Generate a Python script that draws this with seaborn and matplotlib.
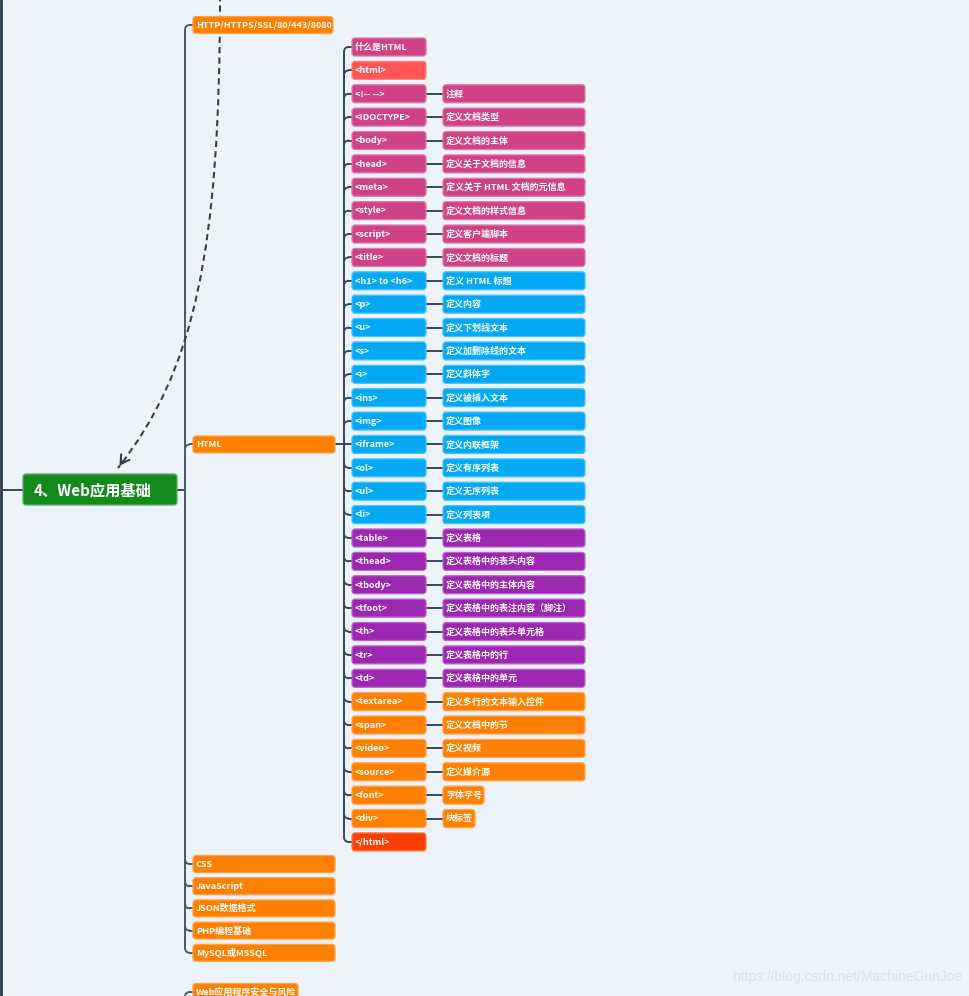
# Mapa mental "4、Web应用基础" rehecho con seaborn + matplotlib
# todo se dibuja en un solo eje que ocupa la figura entera (1 unidad = 1 px)

import matplotlib
matplotlib.use("Agg")
import matplotlib.pyplot as plt
import seaborn as sns
from matplotlib.patches import FancyBboxPatch, PathPatch
from matplotlib.path import Path
from matplotlib.colors import to_rgb

# Seccion 1: datos del mapa

CENTRO = "4、Web应用基础"

# ramas de segundo nivel
RAMA_HTTP = "HTTP/HTTPS/SSL/80/443/8080"
RAMA_HTML = "HTML"
RAMAS_ABAJO = ["CSS", "JavaScript", "JSON数据格式", "PHP编程基础", "MySQL或MSSQL"]
RAMA_CORTADA = "Web应用程序安全与风险"

# hijos de HTML: etiqueta, descripcion y grupo de color
ETIQUETAS = [
    "什么是HTML", "<html>", "<!-- -->", "<!DOCTYPE>", "<body>", "<head>",
    "<meta>", "<style>", "<script>", "<title>",
    "<h1> to <h6>", "<p>", "<u>", "<s>", "<i>", "<ins>", "<img>", "<iframe>",
    "<ol>", "<ul>", "<li>",
    "<table>", "<thead>", "<tbody>", "<tfoot>", "<th>", "<tr>", "<td>",
    "<textarea>", "<span>", "<video>", "<source>", "<font>", "<div>", "</html>",
]
DESCRIPCIONES = [
    "", "", "注释", "定义文档类型", "定义文档的主体", "定义关于文档的信息",
    "定义关于 HTML 文档的元信息", "定义文档的样式信息", "定义客户端脚本", "定义文档的标题",
    "定义 HTML 标题", "定义内容", "定义下划线文本", "定义加删除线的文本", "定义斜体字",
    "定义被插入文本", "定义图像", "定义内联框架", "定义有序列表", "定义无序列表", "定义列表项",
    "定义表格", "定义表格中的表头内容", "定义表格中的主体内容", "定义表格中的表注内容（脚注）",
    "定义表格中的表头单元格", "定义表格中的行", "定义表格中的单元",
    "定义多行的文本输入控件", "定义文档中的节", "定义视频", "定义媒介源", "字体字号", "块标签", "",
]
GRUPOS = (["rosa", "rojo"] + ["rosa"] * 8 + ["azul"] * 11 + ["morado"] * 7
          + ["naranja"] * 6 + ["rojo2"])

WATERMARK = "https://blog.csdn.net/MachineGunJoe"

# Seccion 2: estilo

FONDO = "#ecf3fa"
LINEA = "#3a4658"
COLORES = {
    "rosa": "#cf4386",
    "rojo": "#ff5555",
    "azul": "#03a9f4",
    "morado": "#9c27b0",
    "naranja": "#ff8000",
    "rojo2": "#ff3d00",
    "verde": "#148a1e",
}

sns.set_theme(style="white", rc={"axes.facecolor": FONDO, "figure.facecolor": FONDO})
plt.rcParams["font.family"] = ["Noto Sans CJK SC", "DejaVu Sans"]

fig = plt.figure(figsize=(9.7, 9.96), dpi=100)
ax = fig.add_axes([0, 0, 1, 1])
ax.set_xlim(0, 970)
ax.set_ylim(996, 0)
ax.axis("off")


def aclarar(color, f=0.3):
    r, g, b = to_rgb(color)
    return (r + (1 - r) * f, g + (1 - g) * f, b + (1 - b) * f)


def caja(x, y, w, h, color, texto, fs=6.5, dx=3):
    ax.add_patch(FancyBboxPatch((x, y - h / 2), w, h,
                                boxstyle="round,pad=0,rounding_size=3",
                                fc=color, ec=aclarar(color), lw=0.9, zorder=3))
    ax.text(x + dx, y + 0.3, texto, color="white", fontsize=fs, weight="bold",
            ha="left", va="center", zorder=4)


def rama(xt, y_padre, ys, x_hijo, r=5, color=LINEA, lw=1.4):
    # tronco vertical + curvitas hacia cada hijo
    arriba = min(ys)
    abajo = max(ys)
    ax.plot([xt, xt], [arriba + r, abajo - r], color=color, lw=lw, zorder=1,
            solid_capstyle="butt")
    for y in ys:
        if abs(y - y_padre) < 1:
            ax.plot([xt, x_hijo], [y, y], color=color, lw=lw, zorder=1)
            continue
        s = 1 if y < y_padre else -1
        p = Path([(xt, y + s * r), (xt, y), (xt + r, y)],
                 [Path.MOVETO, Path.CURVE3, Path.CURVE3])
        ax.add_patch(PathPatch(p, fc="none", ec=color, lw=lw, zorder=1))
        ax.plot([xt + r, x_hijo], [y, y], color=color, lw=lw, zorder=1)


# Seccion 3: posiciones (en px)

X2, W2, H2 = 193, 142, 17
X3, W3, H3 = 352, 74, 18
X4, W4 = 443, 142
ANCHO_CORTO = {"字体字号": 41, "块标签": 32}

y_filas = [47 + i * 23.38 for i in range(len(ETIQUETAS))]
y_http = 25
y_html = y_filas[17]
y_abajo = [864 + k * 22.2 for k in range(len(RAMAS_ABAJO))]
y_cortada = 992
y_centro = 490

# Seccion 4: lineas

# borde izquierdo (viene del padre que ya no se ve)
ax.plot([1, 1], [0, 996], color="#2c3a4e", lw=2, zorder=1)
ax.plot([1, 23], [y_centro, y_centro], color=LINEA, lw=1.4, zorder=1)

# centro -> ramas de segundo nivel
ax.plot([177, 185], [y_centro, y_centro], color=LINEA, lw=1.4, zorder=1)
rama(185, y_centro, [y_http, y_html] + y_abajo, X2, color="#4c586b")
p = Path([(185, 1000), (185, y_cortada + 5), (185, y_cortada), (190, y_cortada)],
         [Path.MOVETO, Path.LINETO, Path.CURVE3, Path.CURVE3])
ax.add_patch(PathPatch(p, fc="none", ec="#4c586b", lw=1.4, zorder=1))
ax.plot([190, X2], [y_cortada, y_cortada], color="#4c586b", lw=1.4, zorder=1)

# HTML -> hijos
ax.plot([X2 + W2, 344], [y_html, y_html], color=LINEA, lw=1.4, zorder=1)
rama(344, y_html, y_filas, X3)

# hijos -> descripciones
for y, d in zip(y_filas, DESCRIPCIONES):
    if d:
        ax.plot([X3 + W3, X4], [y, y], color=LINEA, lw=1.4, zorder=1)

# flecha punteada que baja desde arriba hasta el nodo central
curva = Path([(220, -5), (220, 250), (195, 370), (118, 468)],
             [Path.MOVETO, Path.CURVE4, Path.CURVE4, Path.CURVE4])
ax.add_patch(PathPatch(curva, fc="none", ec="#36424f", lw=1.5,
                       linestyle=(0, (3, 2)), zorder=2))
ax.annotate("", xy=(118, 468), xytext=(124, 459),
            arrowprops=dict(arrowstyle="->,head_length=0.5,head_width=0.3",
                            color="#36424f", lw=1.5), zorder=2)

# Seccion 5: cajas

ax.add_patch(FancyBboxPatch((23, 474), 154, 31,
                            boxstyle="round,pad=0,rounding_size=3",
                            fc=COLORES["verde"], ec=aclarar(COLORES["verde"]),
                            lw=0.9, zorder=3))
ax.text(34, y_centro + 0.5, CENTRO, color="white", fontsize=11, weight="bold",
        ha="left", va="center", zorder=4)

caja(X2, y_http, 140, H2, COLORES["naranja"], RAMA_HTTP)
caja(X2, y_html, W2, H2, COLORES["naranja"], RAMA_HTML)
for y, t in zip(y_abajo, RAMAS_ABAJO):
    caja(X2, y, W2, H2, COLORES["naranja"], t)
caja(X2, y_cortada, 105, H2, COLORES["naranja"], RAMA_CORTADA)

for y, t, d, g in zip(y_filas, ETIQUETAS, DESCRIPCIONES, GRUPOS):
    caja(X3, y, W3, H3, COLORES[g], t)
    if d:
        caja(X4, y, ANCHO_CORTO.get(d, W4), H3, COLORES[g], d)

# marca de agua
ax.text(962, 977, WATERMARK, ha="right", va="center", color="#dce2e9",
        fontsize=10, family=["Liberation Sans", "DejaVu Sans"], zorder=5)

fig.savefig("out.png", dpi=100, facecolor=FONDO)
